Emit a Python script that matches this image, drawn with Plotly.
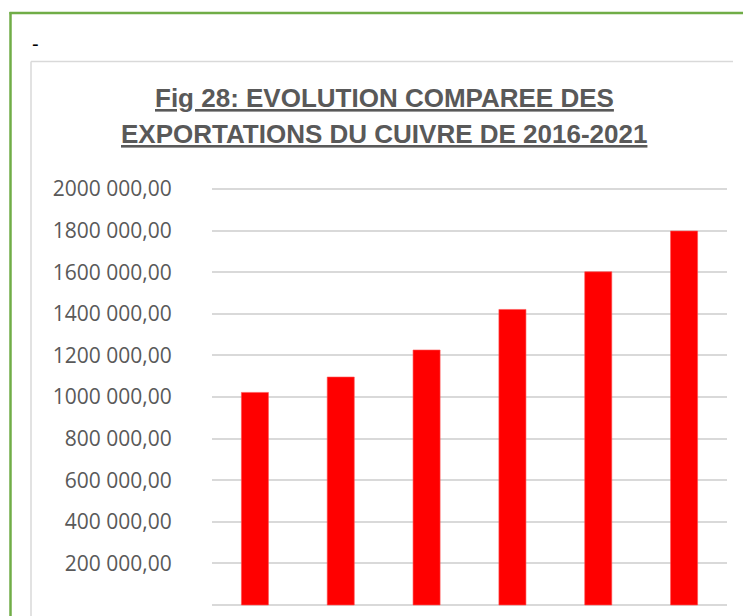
import plotly.graph_objects as go

# data
years = ["2016", "2017", "2018", "2019", "2020", "2021"]
exports = [1022000, 1096000, 1226000, 1421000, 1602000, 1798000]
tick_vals = [0, 200000, 400000, 600000, 800000, 1000000, 1200000, 1400000, 1600000, 1800000, 2000000]
tick_text = ["-", "200 000,00", "400 000,00", "600 000,00", "800 000,00", "1000 000,00",
             "1200 000,00", "1400 000,00", "1600 000,00", "1800 000,00", "2000 000,00"]
title_lines = ["Fig 28: EVOLUTION COMPAREE DES", "EXPORTATIONS DU CUIVRE DE 2016-2021"]

# the page body has an 8px margin, so the figure starts 8px in from the window corner
OFF = 8
W, H = 751 - OFF, 616 - OFF
PL, PR, PT, PB = 212 - OFF, 727 - OFF, 188 - OFF, 606 - OFF
YMIN, YMAX = -5000, 2005000


def fx(px):
    return (px - OFF - PL) / (PR - PL)


def fy(py):
    return (PB - (py - OFF)) / (PB - PT)


fig = go.Figure()
fig.add_trace(go.Bar(x=years, y=exports, base=0,
                     marker=dict(color="#ff0000", line=dict(color="#ff5050", width=0.6)),
                     showlegend=False))

shapes = []
# green selection border
shapes.append(dict(type="line", xref="paper", yref="paper", x0=fx(10.5), x1=fx(10.5), y0=fy(12), y1=fy(620),
                   line=dict(color="#70ad47", width=2.5)))
shapes.append(dict(type="line", xref="paper", yref="paper", x0=fx(9.5), x1=fx(755), y0=fy(13), y1=fy(13),
                   line=dict(color="#70ad47", width=2.5)))
# chart frame
shapes.append(dict(type="line", xref="paper", yref="paper", x0=fx(31), x1=fx(733), y0=fy(61.5), y1=fy(61.5),
                   line=dict(color="#d9d9d9", width=1.5)))
shapes.append(dict(type="line", xref="paper", yref="paper", x0=fx(31), x1=fx(31), y0=fy(61.5), y1=fy(620),
                   line=dict(color="#d9d9d9", width=1.5)))

title_font = dict(family="Liberation Sans, Arial", size=26, color="#595959")
annotations = [
    dict(text="-", xref="paper", yref="paper", x=fx(35), y=fy(44), showarrow=False,
         xanchor="center", yanchor="middle",
         font=dict(family="Liberation Sans, Arial", size=20, color="black")),
    dict(text="<b><u>" + title_lines[0] + "</u></b>", xref="paper", yref="paper", x=fx(384), y=fy(98),
         showarrow=False, xanchor="center", yanchor="middle", font=title_font),
    dict(text="<b><u>" + title_lines[1] + "</u></b>", xref="paper", yref="paper", x=fx(384), y=fy(134),
         showarrow=False, xanchor="center", yanchor="middle", font=title_font),
]

fig.update_layout(
    width=W, height=H,
    margin=dict(l=PL, r=W - PR, t=PT, b=H - PB, pad=0),
    paper_bgcolor="white", plot_bgcolor="white",
    bargap=0.685,
    shapes=shapes,
    annotations=annotations,
    xaxis=dict(showticklabels=False, showgrid=False, zeroline=False, showline=False, ticks=""),
    yaxis=dict(range=[YMIN, YMAX], tickvals=tick_vals, ticktext=tick_text,
               showgrid=True, gridcolor="#d9d9d9", gridwidth=1.5, zeroline=False, showline=False,
               ticks="outside", ticklen=35, tickcolor="rgba(0,0,0,0)",
               tickfont=dict(family="Open Sans, Noto Sans", size=21, color="#595959")),
)

fig.write_html("out.html")
